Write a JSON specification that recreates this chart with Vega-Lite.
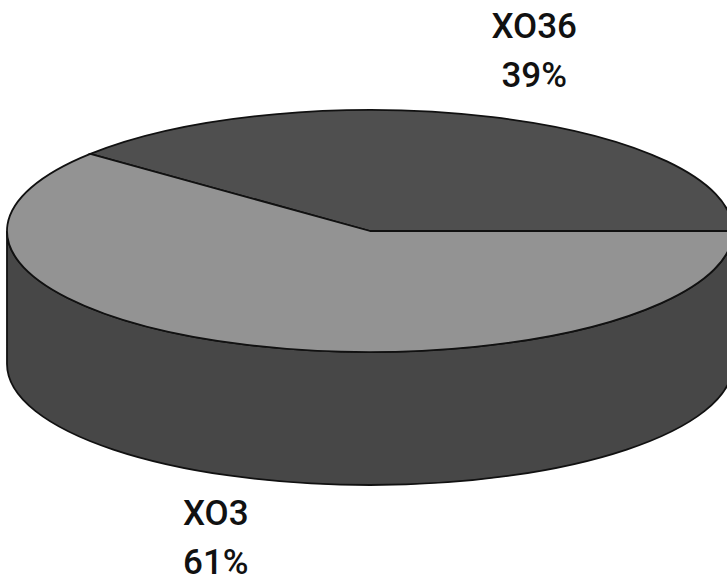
{
  "$schema": "https://vega.github.io/schema/vega-lite/v6.json",
  "width": 714,
  "height": 462,
  "autosize": {"type": "none"},
  "padding": {"left": 13, "top": 0, "right": 0, "bottom": 124},
  "background": "white",
  "config": {"view": {"stroke": null}},
  "data": {
    "values": [
      {"category": "XO36", "share": 39},
      {"category": "XO3", "share": 61}
    ]
  },
  "transform": [
    {"stack": "share", "groupby": [], "as": ["start", "end"]}
  ],
  "layer": [
    {
      "transform": [{"filter": "datum.end > 50"}],
      "mark": {
        "type": "point",
        "filled": true,
        "opacity": 1,
        "size": 527076,
        "fill": "#474747",
        "stroke": "#111111",
        "strokeWidth": 1.8,
        "shape": {"expr": "'M' + round(cos(max(datum.start*PI/50,PI))*10000)/10000 + ',' + round(-0.3333*sin(max(datum.start*PI/50,PI))*10000)/10000 + 'A1,0.3333,0,0,0,' + round(cos(min(datum.end*PI/50,2*PI))*10000)/10000 + ',' + round(-0.3333*sin(min(datum.end*PI/50,2*PI))*10000)/10000 + 'L' + round(cos(min(datum.end*PI/50,2*PI))*10000)/10000 + ',' + round((0.3664-0.3333*sin(min(datum.end*PI/50,2*PI)))*10000)/10000 + 'A1,0.3333,0,0,1,' + round(cos(max(datum.start*PI/50,PI))*10000)/10000 + ',' + round((0.3664-0.3333*sin(max(datum.start*PI/50,PI)))*10000)/10000 + 'Z'"}
      },
      "encoding": {}
    },
    {
      "mark": {
        "type": "point",
        "filled": true,
        "opacity": 1,
        "size": 527076,
        "stroke": "#111111",
        "strokeWidth": 1.8,
        "shape": {"expr": "'M0,0L' + round(cos(datum.start*PI/50)*10000)/10000 + ',' + round(-0.3333*sin(datum.start*PI/50)*10000)/10000 + 'A1,0.3333,0,' + (datum.share > 50 ? 1 : 0) + ',0,' + round(cos(datum.end*PI/50)*10000)/10000 + ',' + round(-0.3333*sin(datum.end*PI/50)*10000)/10000 + 'Z'"}
      },
      "encoding": {
        "color": {
          "field": "category",
          "type": "nominal",
          "scale": {"domain": ["XO36", "XO3"], "range": ["#4f4f4f", "#939393"]},
          "legend": null
        }
      }
    },
    {
      "mark": {
        "type": "text",
        "font": "Roboto",
        "fontSize": 35,
        "fontWeight": 500,
        "lineHeight": 49,
        "lineBreak": "\n",
        "align": "center",
        "baseline": "middle",
        "color": "#111111",
        "text": {"expr": "datum.category + '\\n' + datum.share + '%'"},
        "dx": {"expr": "5 + 470*cos((datum.start+datum.end)*PI/100)"},
        "dy": {"expr": "-25 - 190*sin((datum.start+datum.end)*PI/100) + (sin((datum.start+datum.end)*PI/100) < 0 ? 129 : 0)"}
      },
      "encoding": {}
    }
  ]
}
